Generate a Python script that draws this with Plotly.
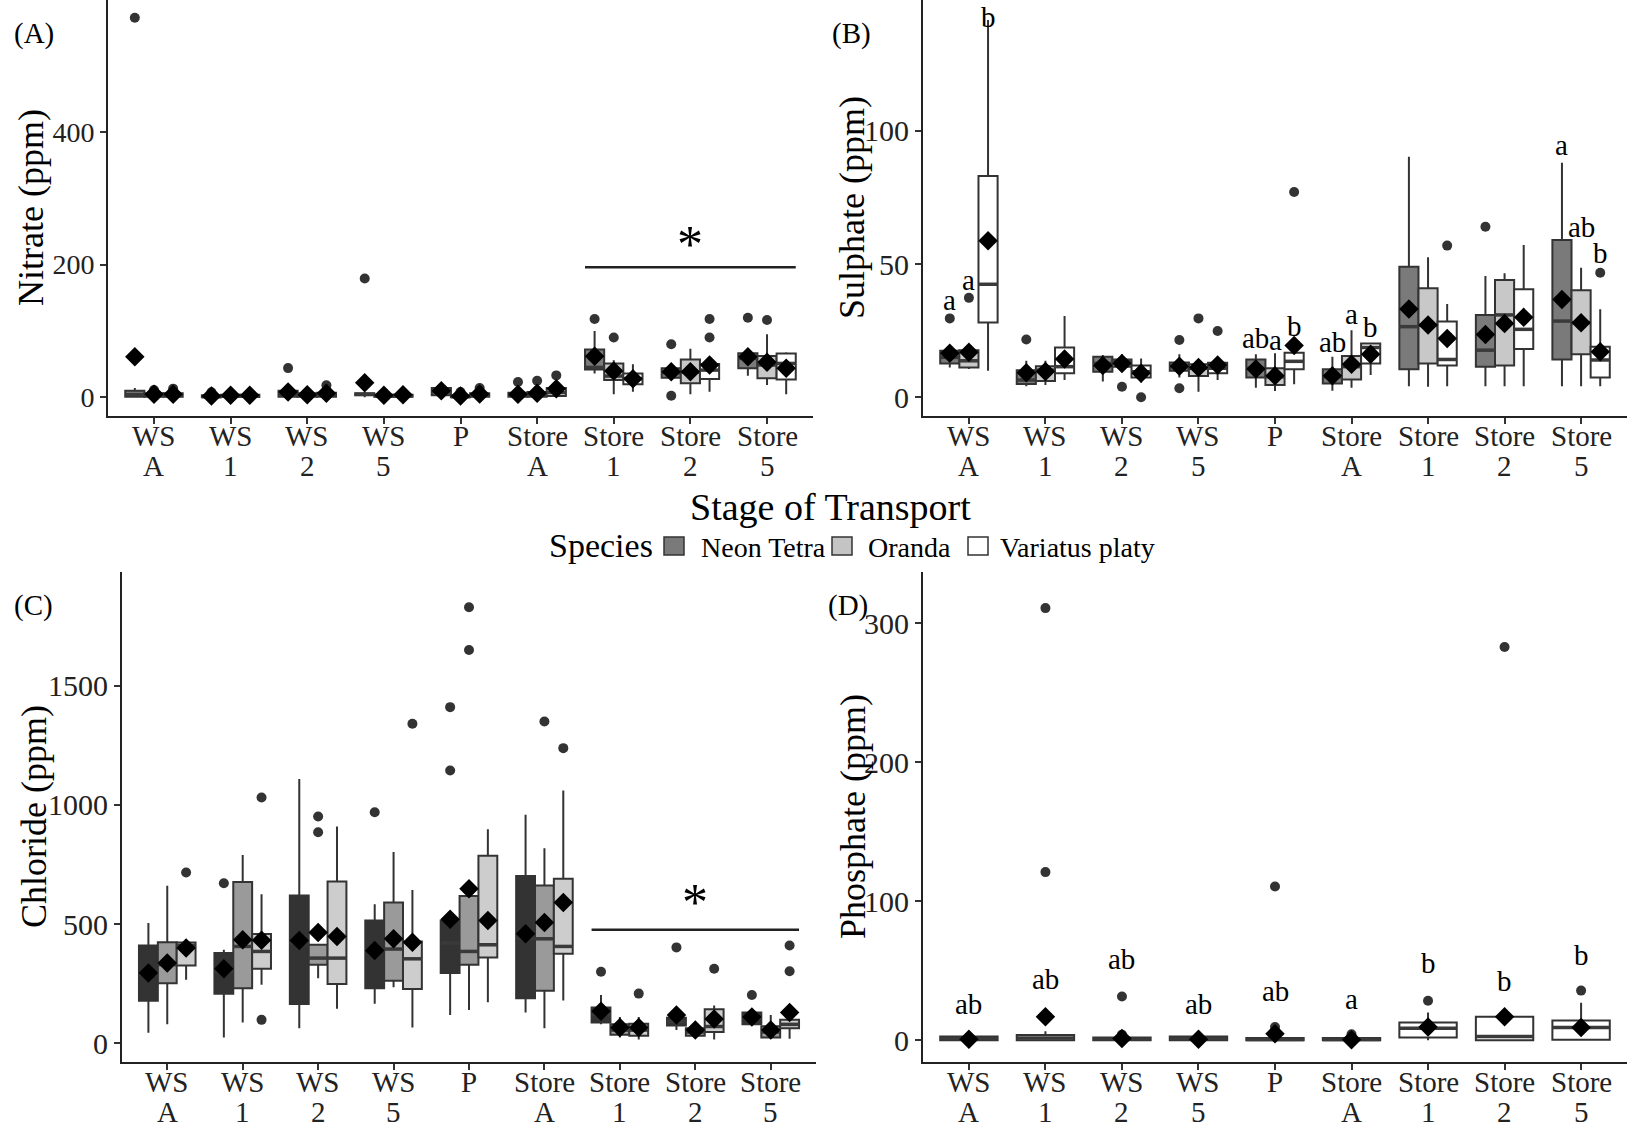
import plotly.graph_objects as go

W, H = 1629, 1129
FONT = "Liberation Serif, Times New Roman, serif"
EDGE = "#333333"

STAGE_LINE1 = ["WS", "WS", "WS", "WS", "P", "Store", "Store", "Store", "Store"]
STAGE_LINE2 = ["A", "1", "2", "5", "", "A", "1", "2", "5"]
SPECIES = ["Neon Tetra", "Oranda", "Variatus platy"]

# Box summaries per stage: (lower whisker, Q1, median, Q3, upper whisker, mean)
NITRATE_NEON = [(0, 1, 4, 10, 14, 61), (0, 0, 1, 3, 5, 2), (0, 1, 4, 10, 15, 8),
                (0, 3, 4.5, 6, 8, 22), (0, 3, 8, 14, 21, 10), (0, 1, 3, 7, 10, 4.5),
                (36, 42, 45, 72, 100, 62), (26, 29.5, 37, 43.7, 45, 38.6),
                (32.6, 43.7, 58.7, 66.3, 68, 61.2)]
NITRATE_NEON_OUT = [[572], [7.5], [44], [179], [], [23], [118], [80, 2.4], [120]]
NITRATE_ORANDA = [(0, 1, 3, 6, 9, 4.5), (0, 0.5, 2, 4, 6, 3), (0, 1, 3, 6, 8, 4),
                  (0, 1, 2, 4, 5, 3), (0, 0, 1, 3, 5, 2), (0, 1, 4, 8, 12, 6),
                  (4.5, 26, 32, 51, 56, 39.6), (4.5, 21, 38, 57, 73, 38.6),
                  (18.5, 28.6, 48.7, 62.2, 95, 52.7)]
NITRATE_ORANDA_OUT = [[11], [], [], [], [8], [25], [90], [], [116.5]]
NITRATE_PLATY = [(0, 1, 3, 6, 9, 4.5), (0, 0.5, 2, 4, 6, 3), (0, 1, 4, 7, 10, 6),
                 (0, 1, 2, 4, 5, 4), (0, 1, 3, 6, 9, 5), (0, 2, 7, 14, 20, 13),
                 (8.5, 19.6, 28, 36, 49.7, 28), (8.5, 27.6, 41, 50, 58.7, 48.7),
                 (4.5, 27, 51, 66, 68, 43.7)]
NITRATE_PLATY_OUT = [[13], [], [18], [], [14], [33], [], [90, 118], []]

SULPHATE_NEON = [(11.2, 12.7, 15, 17.5, 18.4, 16.5), (4.2, 5, 6.5, 10.2, 13.7, 9.2),
                 (5.9, 9.6, 12.7, 15.2, 15.9, 11.9), (7.4, 10, 11.5, 13.1, 16.2, 11.7),
                 (3.6, 7.4, 10.9, 14.2, 16.2, 10.6), (2.5, 5.2, 7.7, 10.5, 15.2, 8.1),
                 (4.2, 10.5, 26.5, 49, 90.2, 33.1), (4.2, 11.5, 17.7, 30.9, 45.5, 23.6),
                 (4.2, 14.2, 28.6, 59, 88, 36.7)]
SULPHATE_NEON_OUT = [[29.6], [21.7], [], [21.5, 3.4], [], [], [], [64], []]
SULPHATE_ORANDA = [(10.6, 11.2, 13.7, 17.7, 17.7, 16.9), (4.6, 6.1, 10.2, 11.7, 13.7, 9.7),
                   (10.2, 11.5, 13.7, 14.2, 16.2, 12.7), (2.1, 8, 10.9, 12.4, 13.5, 11.2),
                   (2.4, 4.6, 7.7, 10.9, 16.5, 8.1), (3.6, 6.7, 11.5, 15.5, 25.2, 12.4),
                   (4, 12.7, 27, 40.9, 52.5, 27.1), (4.2, 11.9, 30.9, 44, 46.5, 27.7),
                   (4.2, 16.2, 28, 40.2, 48.6, 28)]
SULPHATE_ORANDA_OUT = [[37.3], [], [4], [29.6], [], [], [], [], []]
SULPHATE_PLATY = [(10, 28.1, 42.4, 83, 141.5, 58.7), (6.5, 9, 11.5, 18.7, 30.5, 14.4),
                  (5.6, 7.4, 9.6, 11.9, 14.6, 9), (6.5, 9, 10.9, 13, 14, 12.1),
                  (4.9, 10.5, 13.5, 16.7, 16.7, 19.4), (8.4, 12.7, 18.7, 20.2, 20.5, 16.2),
                  (4.2, 11.9, 14.2, 28.4, 35, 22.1), (4.2, 18.1, 25.5, 40.5, 57.1, 30),
                  (4.2, 7.4, 14, 19, 33, 17.1)]
SULPHATE_PLATY_OUT = [[], [], [0], [24.9], [77], [], [56.9], [], [46.7]]

CHLORIDE_NEON = [(44, 178, 290, 410, 504, 294), (24, 207, 300, 378, 392, 312),
                 (63, 164, 420, 620, 1109, 431), (165, 231, 390, 515, 583, 389),
                 (118, 294, 420, 515, 515, 520), (129, 189, 440, 702, 958, 459),
                 (79, 87, 120, 150, 202, 134), (55, 74, 90, 107, 134, 118),
                 (79, 79, 105, 129, 129, 110)]
CHLORIDE_NEON_OUT = [[], [671], [], [969], [1144, 1410], [], [300], [402], [202]]
CHLORIDE_ORANDA = [(79, 252, 330, 424, 661, 336), (87, 231, 406, 676, 790, 434),
                   (273, 329, 357, 413, 413, 464), (235, 262, 395, 590, 802, 438),
                   (139, 329, 385, 618, 618, 648), (63, 220, 438, 662, 818, 506),
                   (24, 35, 55, 79, 110, 66), (25, 31, 47, 63, 87, 55),
                   (24, 24, 47, 71, 118, 55)]
CHLORIDE_ORANDA_OUT = [[], [], [885, 951], [], [1650, 1829], [1350], [], [], []]
CHLORIDE_PLATY = [(266, 326, 410, 422, 422, 399), (245, 312, 385, 458, 625, 432),
                  (145, 248, 357, 678, 909, 448), (66, 227, 354, 427, 643, 424),
                  (172, 360, 413, 786, 898, 515), (179, 375, 406, 690, 1060, 590),
                  (16, 31, 55, 82, 110, 66), (16, 47, 70, 142, 158, 102),
                  (19, 63, 79, 98, 125, 129)]
CHLORIDE_PLATY_OUT = [[716], [1031, 98], [], [1340], [], [1238], [208], [312], [302, 410]]

PHOSPHATE_PLATY = [(0, 0, 1, 2.7, 3, 0.6), (0, 0, 1.5, 3.8, 6.5, 16.8),
                   (0, 0, 0.8, 2, 3, 1.2), (0, 0, 1, 2.7, 3, 0.6),
                   (0, 0, 0.5, 1.5, 2, 4.6), (0, 0, 0.5, 1.5, 2, 0.3),
                   (0, 1.9, 8.6, 12.7, 20, 9.5), (0, 0, 2.7, 16.8, 16.8, 16.8),
                   (0, 0.3, 9.2, 14.1, 27, 9.2)]
PHOSPHATE_PLATY_OUT = [[], [121, 311], [4, 31.4], [], [9.5, 110.6], [4.3], [28.4], [283], [35.7]]

# Compact-letter groupings: (stage index, species index, letters, height)
SULPHATE_LETTERS = [(0, 0, "a", 35.2), (0, 1, "a", 42.7),
                    (4, 0, "ab", 22.1), (4, 1, "a", 20.2), (4, 2, "b", 26.7),
                    (5, 0, "ab", 20.8), (5, 1, "a", 30.2), (5, 2, "b", 26.5),
                    (8, 0, "a", 93.4), (8, 1, "ab", 64), (8, 2, "b", 54)]
# letter hanging from the top of the sulphate panel (stage, species, letters)
SULPHATE_TOP_LETTER = (0, 2, "b")
PHOSPHATE_LETTERS = ["ab", "ab", "ab", "ab", "ab", "a", "b", "b", "b"]
PHOSPHATE_LETTER_Y = [25.7, 43.8, 58.1, 25.7, 35.7, 27.6, 55.4, 42.4, 61.4]

# Significance bar over the store stages: (first stage, last stage, height, star height)
NITRATE_SIG = (6, 8, 196, 242)
CHLORIDE_SIG = (6, 8, 476, 623)

FILLS_AB = ["#7a7a7a", "#c8c8c8", "#ffffff"]
FILLS_C = ["#333333", "#9a9a9a", "#cdcdcd"]
FILLS_D = ["#ffffff"]
LEGEND_FILLS = ["#7a7a7a", "#c4c4c4", "#ffffff"]

PANELS = [
    dict(tag="(A)", title="Nitrate (ppm)", box=(108, 813, 0, 416), yrange=(-28.2, 598.8),
         yticks=[0, 200, 400], tickfont=28, title_x=31, tag_x=12,
         series=[(NITRATE_NEON, NITRATE_NEON_OUT), (NITRATE_ORANDA, NITRATE_ORANDA_OUT),
                 (NITRATE_PLATY, NITRATE_PLATY_OUT)], fills=FILLS_AB),
    dict(tag="(B)", title="Sulphate (ppm)", box=(923, 1627, 0, 416), yrange=(-7.0, 149.0),
         yticks=[0, 50, 100], tickfont=30, title_x=852, tag_x=830,
         series=[(SULPHATE_NEON, SULPHATE_NEON_OUT), (SULPHATE_ORANDA, SULPHATE_ORANDA_OUT),
                 (SULPHATE_PLATY, SULPHATE_PLATY_OUT)], fills=FILLS_AB),
    dict(tag="(C)", title="Chloride (ppm)", box=(122, 816, 572, 1062), yrange=(-78.9, 1977),
         yticks=[0, 500, 1000, 1500], tickfont=30, title_x=34, tag_x=12,
         series=[(CHLORIDE_NEON, CHLORIDE_NEON_OUT), (CHLORIDE_ORANDA, CHLORIDE_ORANDA_OUT),
                 (CHLORIDE_PLATY, CHLORIDE_PLATY_OUT)], fills=FILLS_C),
    dict(tag="(D)", title="Phosphate (ppm)", box=(923, 1627, 572, 1062), yrange=(-15.7, 337),
         yticks=[0, 100, 200, 300], tickfont=30, title_x=853, tag_x=826,
         series=[(PHOSPHATE_PLATY, PHOSPHATE_PLATY_OUT)], fills=FILLS_D),
]


def px(x):
    return x / W


def py(y):
    return 1 - y / H


fig = go.Figure()
annotations = []
shapes = []
layout_axes = {}
n_stage = len(STAGE_LINE1)

for p, panel in enumerate(PANELS):
    suffix = "" if p == 0 else str(p + 1)
    xa, ya = "x" + suffix, "y" + suffix
    left, right, top, bottom = panel["box"]
    groups = panel["series"]
    n = len(groups)
    bw = 0.75 / n
    offsets = [(k - (n - 1) / 2) * bw for k in range(n)]

    for k, (stats, _) in enumerate(groups):
        lf, q1, med, q3, uf, _m = zip(*stats)
        centers = [i + offsets[k] for i in range(n_stage)]
        fig.add_trace(go.Box(
            x=centers, lowerfence=lf, q1=q1, median=med, q3=q3, upperfence=uf,
            width=bw, fillcolor=panel["fills"][k],
            line=dict(color=EDGE, width=2), whiskerwidth=0, boxpoints=False,
            xaxis=xa, yaxis=ya, showlegend=False, hoverinfo="skip"))
        # heavier median bar drawn across each box
        mx, my = [], []
        for c, m in zip(centers, med):
            mx += [c - bw / 2, c + bw / 2, None]
            my += [m, m, None]
        fig.add_trace(go.Scatter(
            x=mx, y=my, mode="lines", line=dict(color="#3a3a3a", width=3.5),
            xaxis=xa, yaxis=ya, showlegend=False, hoverinfo="skip"))

    for k, (_, outs) in enumerate(groups):
        ox, oy = [], []
        for i, vals in enumerate(outs):
            for v in vals:
                ox.append(i + offsets[k])
                oy.append(v)
        fig.add_trace(go.Scatter(
            x=ox, y=oy, mode="markers", marker=dict(symbol="circle", size=10, color="#333333"),
            xaxis=xa, yaxis=ya, showlegend=False, hoverinfo="skip"))

    for k, (stats, _) in enumerate(groups):
        means = [row[5] for row in stats]
        fig.add_trace(go.Scatter(
            x=[i + offsets[k] for i in range(n_stage)], y=means, mode="markers",
            marker=dict(symbol="diamond", size=15, color="black"),
            xaxis=xa, yaxis=ya, showlegend=False, hoverinfo="skip"))

    layout_axes["xaxis" + suffix] = dict(
        domain=[px(left), px(right)], range=[-0.6, n_stage - 0.4], anchor=ya,
        tickvals=list(range(n_stage)), showticklabels=False, ticks="outside",
        ticklen=6, tickwidth=1.5, tickcolor="#333333", showline=True,
        linecolor="#222222", linewidth=2, showgrid=False, zeroline=False, fixedrange=True)
    layout_axes["yaxis" + suffix] = dict(
        domain=[py(bottom), py(top)], range=list(panel["yrange"]), anchor=xa,
        tickvals=panel["yticks"], ticktext=[str(t) for t in panel["yticks"]],
        tickfont=dict(family=FONT, size=panel["tickfont"], color="#222222"),
        ticks="outside", ticklen=6, tickwidth=1.5, tickcolor="#333333", showline=True,
        linecolor="#222222", linewidth=2, showgrid=False, zeroline=False, fixedrange=True)

    # stage labels on two lines
    row1 = bottom + 19.5
    row2 = bottom + 50
    for i in range(n_stage):
        annotations.append(dict(x=i, y=py(row1), xref=xa, yref="paper", text=STAGE_LINE1[i],
                                showarrow=False, xanchor="center", yanchor="middle",
                                font=dict(family=FONT, size=29, color="#222222")))
        if STAGE_LINE2[i]:
            annotations.append(dict(x=i, y=py(row2), xref=xa, yref="paper", text=STAGE_LINE2[i],
                                    showarrow=False, xanchor="center", yanchor="middle",
                                    font=dict(family=FONT, size=29, color="#222222")))

    # y-axis title
    annotations.append(dict(x=px(panel["title_x"]), y=py((top + bottom) / 2), xref="paper",
                            yref="paper", text=panel["title"], textangle=-90, showarrow=False,
                            xanchor="center", yanchor="middle",
                            font=dict(family=FONT, size=36, color="black")))
    # panel tag
    annotations.append(dict(x=px(panel["tag_x"]), y=py(top + 33), xref="paper", yref="paper",
                            text=panel["tag"], showarrow=False, xanchor="left",
                            yanchor="middle", font=dict(family=FONT, size=29, color="black")))

# Letters above sulphate boxes
for stage, sp, txt, yv in SULPHATE_LETTERS:
    annotations.append(dict(x=stage + (sp - 1) * 0.25, y=yv, xref="x2", yref="y2", text=txt,
                            showarrow=False, xanchor="center", yanchor="middle",
                            yshift=3 if txt == "a" else 0,
                            font=dict(family=FONT, size=29, color="black")))
stage, sp, txt = SULPHATE_TOP_LETTER
annotations.append(dict(x=stage + (sp - 1) * 0.25, y=PANELS[1]["yrange"][1], xref="x2",
                        yref="y2", text=txt, showarrow=False, xanchor="center", yanchor="top",
                        yshift=1, font=dict(family=FONT, size=29, color="black")))
# Letters above phosphate boxes
for i, (txt, yv) in enumerate(zip(PHOSPHATE_LETTERS, PHOSPHATE_LETTER_Y)):
    annotations.append(dict(x=i, y=yv, xref="x4", yref="y4", text=txt, showarrow=False,
                            xanchor="center", yanchor="middle", yshift=3 if txt == "a" else 0,
                            font=dict(family=FONT, size=29, color="black")))

# Significance bars with stars
for (first, last, ybar, ystar), xa, ya in [(NITRATE_SIG, "x", "y"), (CHLORIDE_SIG, "x3", "y3")]:
    shapes.append(dict(type="line", xref=xa, yref=ya, x0=first - 0.375, x1=last + 0.375,
                       y0=ybar, y1=ybar, line=dict(color="#222222", width=2.5)))
    annotations.append(dict(x=(first + last) / 2, y=ystar, xref=xa, yref=ya, text="*",
                            showarrow=False, xanchor="center", yanchor="middle", yshift=-8,
                            font=dict(family=FONT, size=52, color="black")))

# Shared x title and species legend
annotations.append(dict(x=px(830), y=py(507), xref="paper", yref="paper",
                        text="Stage of Transport", showarrow=False, xanchor="center",
                        yanchor="middle", font=dict(family=FONT, size=38, color="black")))
annotations.append(dict(x=px(601), y=py(546), xref="paper", yref="paper", text="Species",
                        showarrow=False, xanchor="center", yanchor="middle",
                        font=dict(family=FONT, size=34, color="black")))
key_left = [664, 832, 968]
text_left = [699, 866, 998]
for k, name in enumerate(SPECIES):
    shapes.append(dict(type="rect", xref="paper", yref="paper", x0=px(key_left[k]),
                       x1=px(key_left[k] + 20), y0=py(555), y1=py(537),
                       fillcolor=LEGEND_FILLS[k], line=dict(color=EDGE, width=1.5)))
    annotations.append(dict(x=px(text_left[k]), y=py(547), xref="paper", yref="paper",
                            text=name, showarrow=False, xanchor="left", yanchor="middle",
                            font=dict(family=FONT, size=28, color="black")))

fig.update_layout(
    width=W, height=H, margin=dict(l=0, r=0, t=0, b=0),
    paper_bgcolor="white", plot_bgcolor="white", showlegend=False,
    boxmode="overlay", annotations=annotations, shapes=shapes,
    font=dict(family=FONT), **layout_axes)

fig.write_html("out.html", config={"displayModeBar": False})
